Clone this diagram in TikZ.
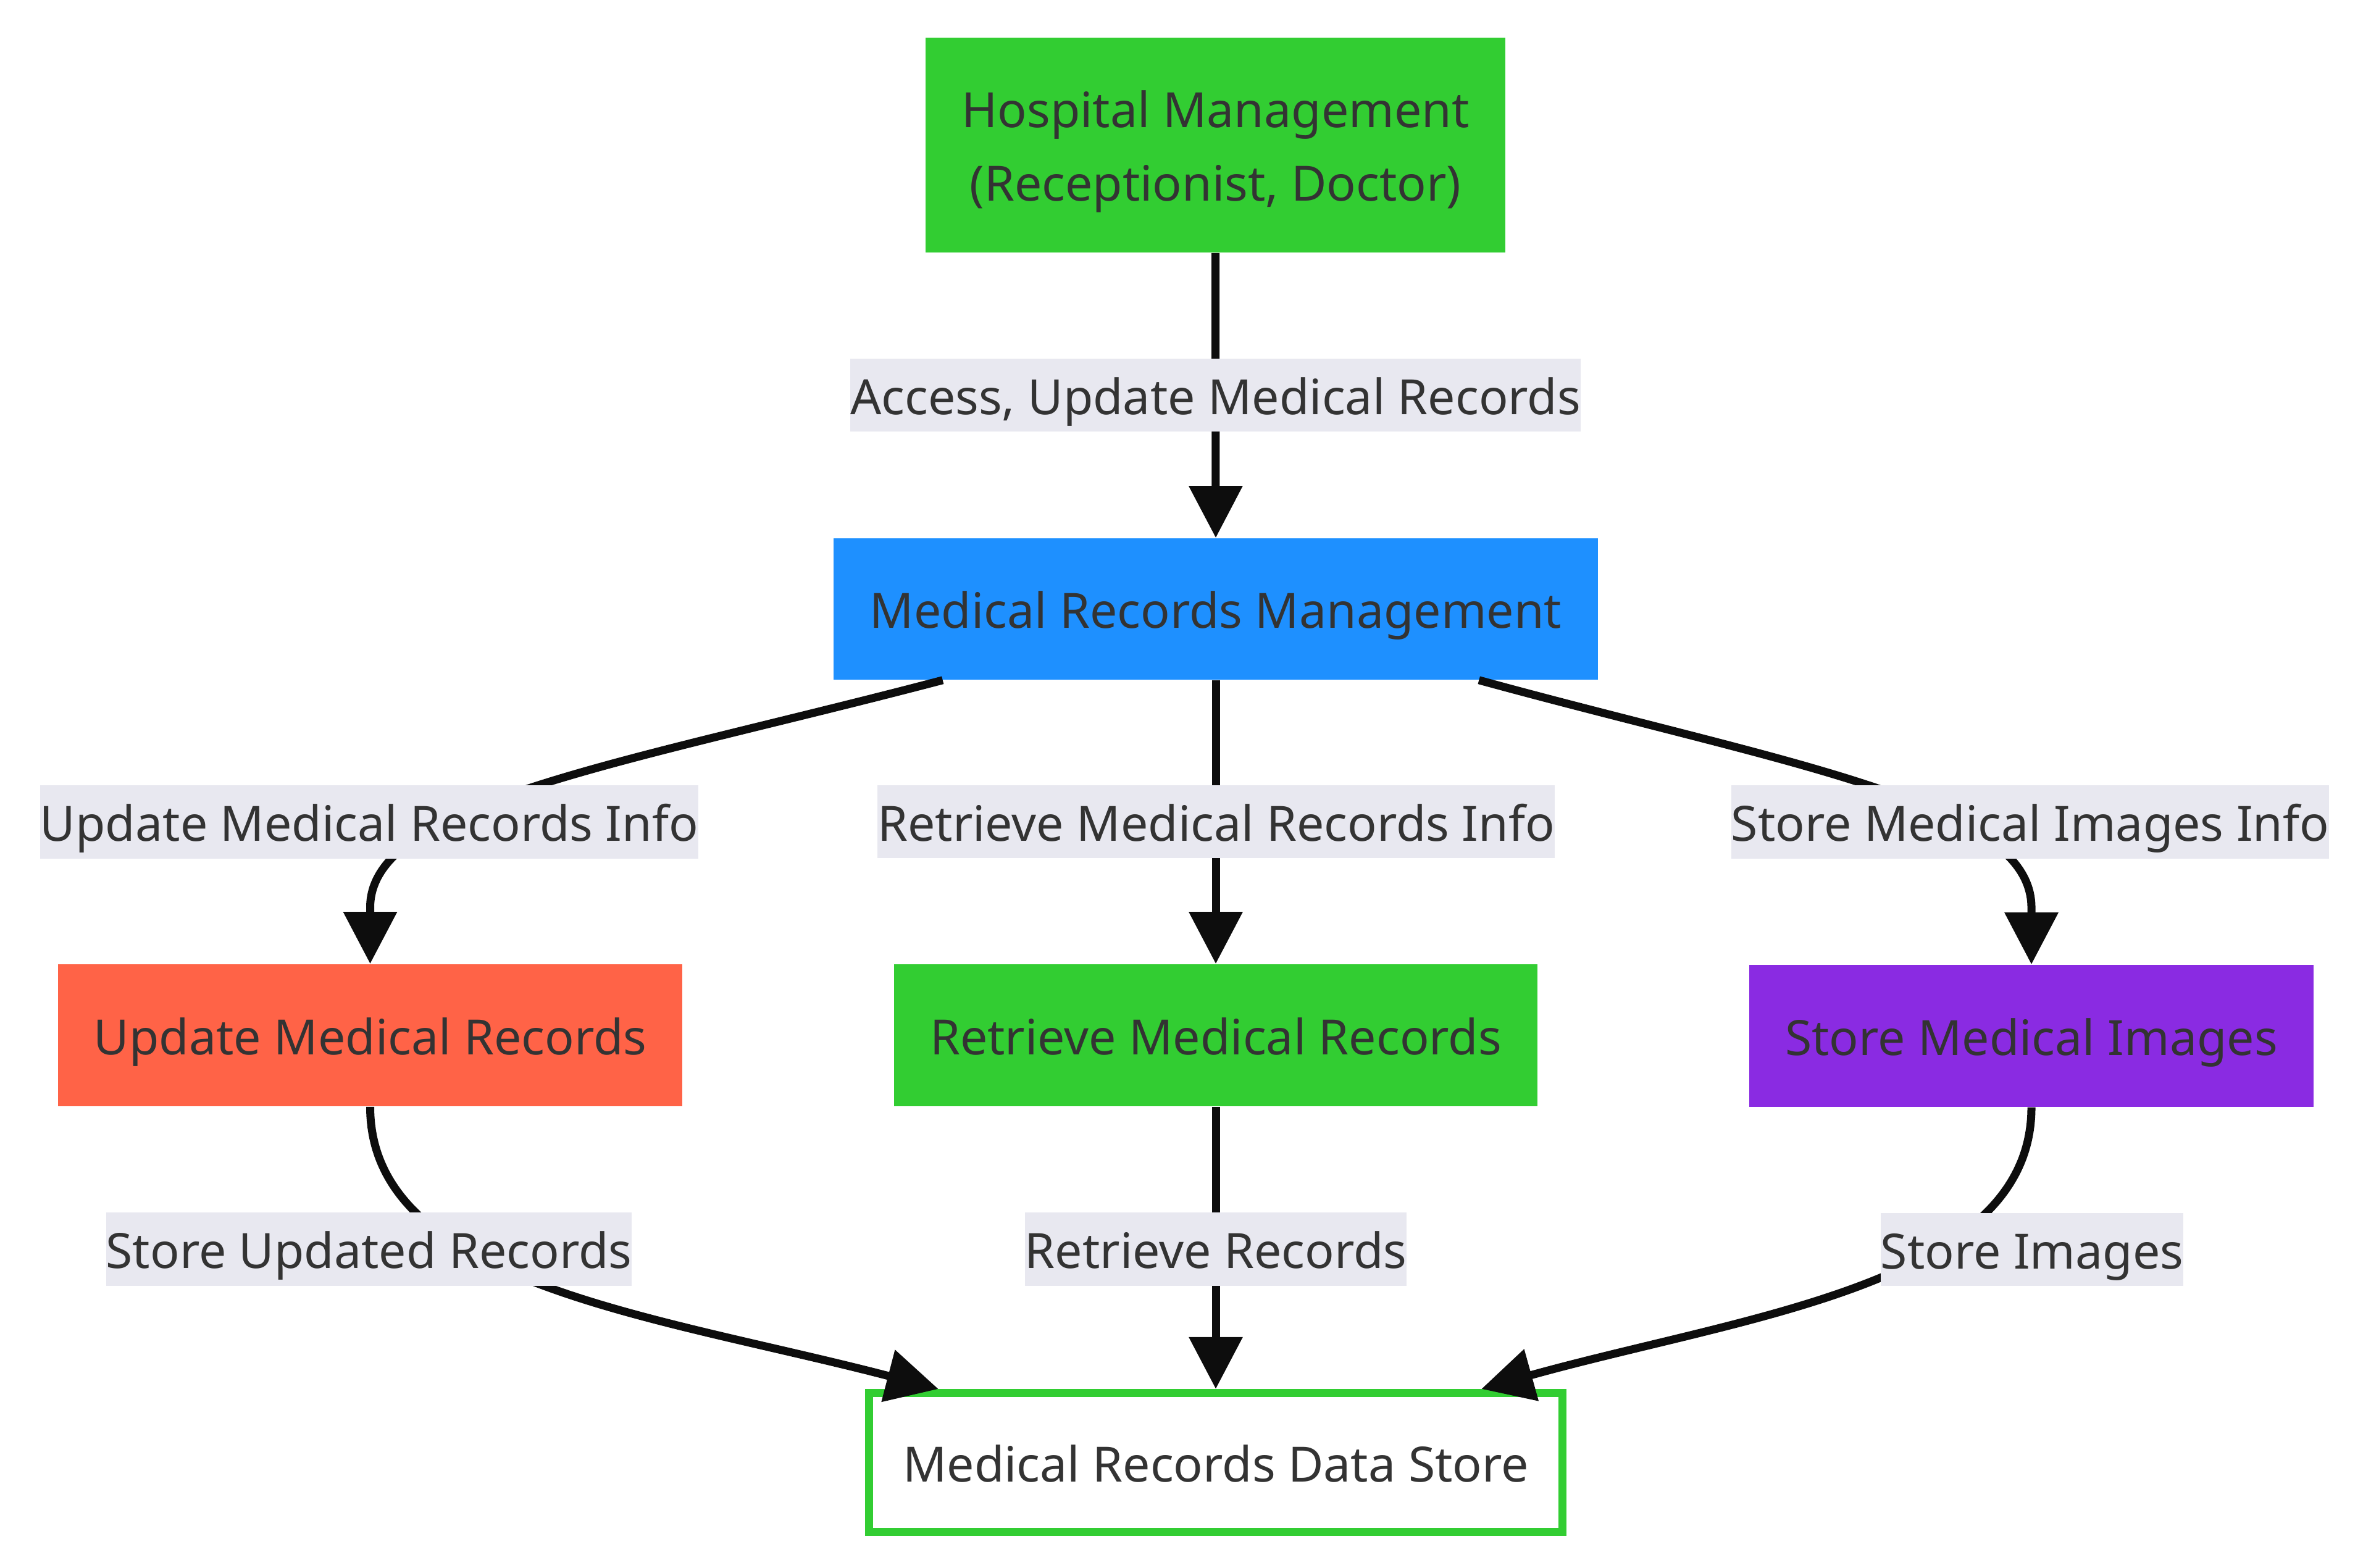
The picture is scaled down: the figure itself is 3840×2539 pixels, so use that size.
\documentclass[tikz,border=0pt]{standalone}
\usepackage{fontspec}
\setmainfont{Noto Sans}
\usetikzlibrary{arrows.meta}
\definecolor{txt}{HTML}{333333}
\definecolor{limeg}{HTML}{32CD32}
\definecolor{dodger}{HTML}{1E90FF}
\definecolor{tomatoc}{HTML}{FF6347}
\definecolor{violetc}{HTML}{8A2BE2}
\definecolor{lblbg}{RGB}{232,232,240}
\definecolor{edgec}{HTML}{0D0D0D}
\newcommand\mainfs{\fontsize{22.4pt}{33.6pt}\selectfont}
\begin{document}
\begin{tikzpicture}[x=0.01cm,y=-0.01cm,
  box/.style={rectangle, inner sep=0pt, text=txt, font=\mainfs, text height=0.90cm, text depth=0.28cm},
  hbox/.style={rectangle, inner sep=0pt, text=txt, font=\mainfs, align=center, text height=2.08cm, text depth=0.28cm},
  lab/.style={rectangle, inner sep=0pt, fill=lblbg, text=txt, font=\mainfs, text height=0.90cm, text depth=0.28cm},
  edgeline/.style={draw=edgec, line width=0.13cm, -{Triangle[length=0.84cm,width=0.84cm]}}]
\useasboundingbox (0,0) rectangle (3840,2539);
% nodes
\node[hbox, fill=limeg, minimum width=9.39cm, minimum height=3.48cm] (hm) at (1968.5,235) {Hospital Management\\(Receptionist, Doctor)};
\node[box, fill=dodger, minimum width=12.38cm, minimum height=2.29cm] (mrm) at (1969,986.5) {Medical Records Management};
\node[box, fill=tomatoc, minimum width=10.11cm, minimum height=2.30cm] (upd) at (599.5,1677) {Update Medical Records};
\node[box, fill=limeg, minimum width=10.42cm, minimum height=2.30cm] (ret) at (1969,1677) {Retrieve Medical Records};
\node[box, fill=violetc, minimum width=9.14cm, minimum height=2.30cm] (sto) at (3290,1678) {Store Medical Images};
\node[box, fill=white, draw=limeg, line width=0.13cm, minimum width=11.23cm, minimum height=2.25cm] (ds) at (1969,2369) {Medical Records Data Store};
% edges
\draw[edgeline] (hm.south) -- (mrm.north);
\draw[edgeline] ([xshift=-4.42cm]mrm.south) .. controls (1000,1240) and (599.5,1300) .. (599.5,1470) -- (upd.north);
\draw[edgeline] (mrm.south) -- (ret.north);
\draw[edgeline] ([xshift=4.26cm]mrm.south) .. controls (2900,1240) and (3290,1300) .. (3290,1470) -- (sto.north);
\draw[edgeline] (upd.south) .. controls (599.5,2080) and (1060,2130) .. ([xshift=-4.49cm]ds.north);
\draw[edgeline] (ret.south) -- (ds.north);
\draw[edgeline] (sto.south) .. controls (3290,2080) and (2830,2130) .. ([xshift=4.30cm]ds.north);
% edge labels
\node[lab] (l1) at (1968.5,640) {Access, Update Medical Records};
\node[lab] (l2) at (598,1331.5) {Update Medical Records Info};
\node[lab] (l3) at (1969.5,1331) {Retrieve Medical Records Info};
\node[lab] (l4) at (3288,1331.5) {Store Medical Images Info};
\node[lab] (l5) at (597.5,2023.5) {Store Updated Records};
\node[lab] (l6) at (1969,2023.5) {Retrieve Records};
\node[lab] (l7) at (3291,2024) {Store Images};
\end{tikzpicture}
\end{document}
